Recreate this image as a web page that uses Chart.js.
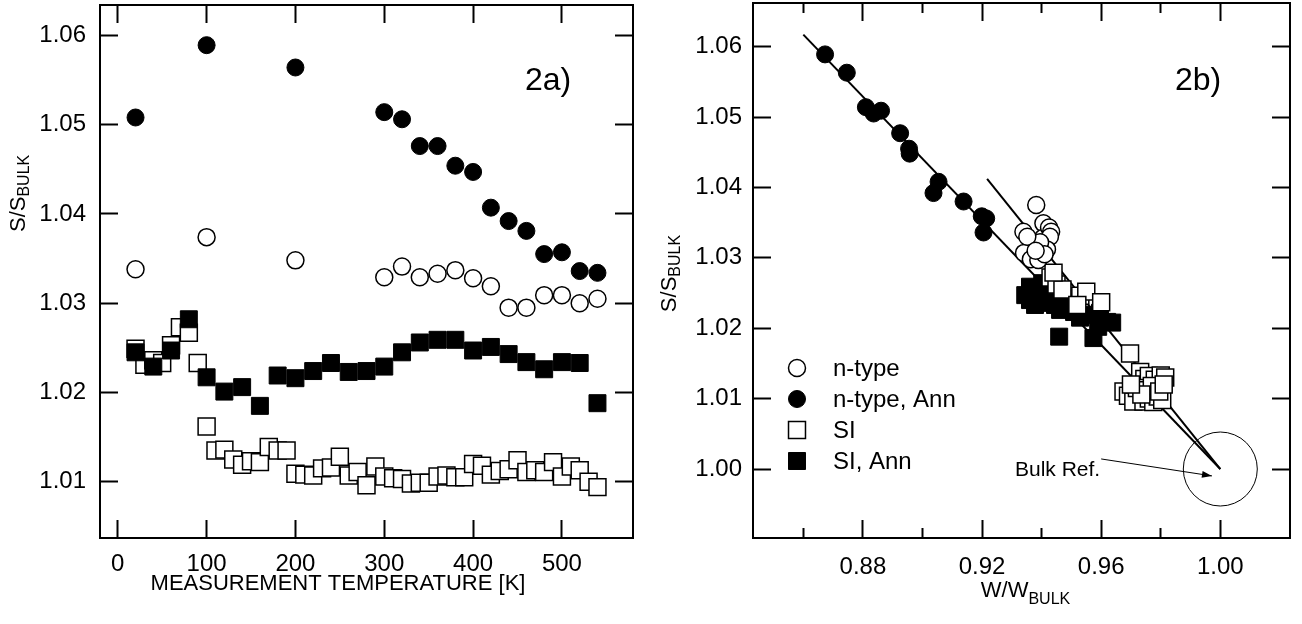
<!DOCTYPE html>
<html><head><meta charset="utf-8">
<script src="https://cdn.jsdelivr.net/npm/chart.js@4.4.0/dist/chart.umd.min.js"></script>
<style>
html,body{margin:0;padding:0;background:#fff;}
#wrap{position:relative;width:1302px;height:624px;overflow:hidden;}
canvas{position:absolute;top:0;}
#c1{left:0px;} #c2{left:651px;}
</style></head><body>
<div id="wrap"><canvas id="c1" width="651" height="624"></canvas><canvas id="c2" width="651" height="624"></canvas></div>
<script>
const FONT = "'Liberation Sans', Arial, Helvetica, sans-serif";

// ---------- Panel 2a: S/S_bulk vs measurement temperature ----------
const tempNType = [20,100,200,300,320,340,360,380,400,420,440,460,480,500,520,540];
const sNType    = [1.0338,1.0374,1.0348,1.0329,1.0341,1.0329,1.0333,1.0337,1.0328,1.0319,1.0295,1.0295,1.0309,1.0309,1.0300,1.0305];
const sNTypeAnn = [1.0508,1.0589,1.0564,1.0514,1.0506,1.0476,1.0476,1.0454,1.0447,1.0407,1.0392,1.0381,1.0355,1.0357,1.0336,1.0334];
const tempSIAnn = [20,40,60,80,100,120,140,160,180,200,220,240,260,280,300,320,340,360,380,400,420,440,460,480,500,520,540];
const sSIAnn    = [1.0245,1.0229,1.0247,1.0282,1.0217,1.0201,1.0206,1.0185,1.0219,1.0216,1.0224,1.0233,1.0223,1.0224,1.0229,1.0245,1.0256,1.0259,1.0259,1.0247,1.0251,1.0243,1.0234,1.0226,1.0234,1.0233,1.0188];
const tempSI = [20,30,40,50,60,70,80,90,100,110,120,130,140,150,160,170,180,190,200,210,220,230,240,250,260,270,280,290,300,310,320,330,340,350,360,370,380,390,400,410,420,430,440,450,460,470,480,490,500,510,520,530,540];
const sSI    = [1.0249,1.0231,1.0236,1.0233,1.0253,1.0273,1.0267,1.0233,1.0162,1.0135,1.0136,1.0125,1.0119,1.0123,1.0122,1.0139,1.0135,1.0135,1.0109,1.0108,1.0107,1.0115,1.0116,1.0128,1.0107,1.0111,1.0096,1.0117,1.0106,1.0104,1.0103,1.0098,1.0099,1.0099,1.0106,1.0107,1.0105,1.0105,1.0120,1.0118,1.0108,1.0112,1.0114,1.0124,1.0111,1.0113,1.0111,1.0122,1.0106,1.0117,1.0113,1.0100,1.0094];
const xTicksA = [0,100,200,300,400,500];
const yTicksA = [1.01,1.02,1.03,1.04,1.05,1.06];
const xRangeA = [-20,580];
const yRangeA = [1.0037,1.0634];

// ---------- Panel 2b: S/S_bulk vs W/W_bulk ----------
const wNTypeAnn = [0.8673,0.8746,0.8810,0.8836,0.8861,0.8925,0.8955,0.8957,0.9037,0.9054,0.9138,0.9199,0.9214,0.9205];
const sNTypeAnnB= [1.0589,1.0563,1.0514,1.0505,1.0509,1.0477,1.0455,1.0448,1.0392,1.0408,1.0380,1.0359,1.0356,1.0336];
const wNType  = [0.9382,0.9339,0.9406,0.9404,0.9367,0.9341,0.9364,0.9389,0.9425,0.9432,0.9428,0.9418,0.9395,0.9352,0.9410,0.9380];
const sNTypeB = [1.0375,1.0337,1.0349,1.0328,1.0318,1.0307,1.0298,1.0297,1.0343,1.0337,1.0330,1.0312,1.0322,1.0330,1.0305,1.0310];
const wSIAnn  = [0.9361,0.9361,0.9395,0.9412,0.9422,0.9445,0.9469,0.9489,0.9509,0.9529,0.9459,0.9574,0.9596,0.9620,0.9637,0.9590,0.9345,0.9378,0.9402,0.9435,0.9462,0.9546,0.9479];
const sSIAnnB = [1.0259,1.0240,1.0254,1.0244,1.0236,1.0233,1.0243,1.0230,1.0223,1.0215,1.0188,1.0186,1.0222,1.0209,1.0208,1.0202,1.0247,1.0233,1.0264,1.0252,1.0226,1.0219,1.0237];
const wSI  = [0.9430,0.9450,0.9470,0.9530,0.9550,0.9600,0.9520,0.9440,0.9697,0.9731,0.9745,0.9760,0.9780,0.9800,0.9815,0.9675,0.9690,0.9708,0.9742,0.9760,0.9775,0.9790,0.9805,0.9720,0.9750,0.9770,0.9795,0.9810,0.9735,0.9700];
const sSIB = [1.0272,1.0262,1.0255,1.0246,1.0252,1.0237,1.0233,1.0279,1.0164,1.0138,1.0128,1.0132,1.0127,1.0133,1.0130,1.0110,1.0104,1.0096,1.0096,1.0100,1.0095,1.0103,1.0098,1.0115,1.0112,1.0118,1.0110,1.0120,1.0106,1.0120];
const fitLineAnnW = [0.860,1.000];
const fitLineAnnS = [1.0617,1.000];
const fitLineW = [0.9217,1.000];
const fitLineS = [1.0412,1.000];
const bulkRefW = [1.000];
const bulkRefS = [1.000];
const xTicksBMajor = [0.88,0.92,0.96,1.00];
const xTicksBMinor = [0.86,0.90,0.94,0.98];
const yTicksB = [1.00,1.01,1.02,1.03,1.04,1.05,1.06];
const xRangeB = [0.8431,1.0234];
const yRangeB = [0.9902,1.0662];

// ---------- texts ----------
const yTitleMain = 'S/S', yTitleSub = 'BULK';
const xTitleA = 'MEASUREMENT TEMPERATURE [K]';
const xTitleBMain = 'W/W', xTitleBSub = 'BULK';
const panelA = '2a)', panelB = '2b)';
const bulkRefLabel = 'Bulk Ref.';
const legendNames = ['n-type','n-type, Ann','SI','SI, Ann'];

const pts = (xs, ys) => xs.map((x, i) => ({x, y: ys[i]}));
const circleOpen = {pointStyle:'circle', pointRadius:8.5, pointHoverRadius:8.5, backgroundColor:'#fff', borderColor:'#000', borderWidth:1.5, showLine:false};
const circleFill = {pointStyle:'circle', pointRadius:8.5, pointHoverRadius:8.5, backgroundColor:'#000', borderColor:'#000', borderWidth:1, showLine:false};
const squareOpen = {pointStyle:'rect', pointRadius:12, pointHoverRadius:12, backgroundColor:'#fff', borderColor:'#000', borderWidth:1.5, showLine:false};
const squareFill = {pointStyle:'rect', pointRadius:12, pointHoverRadius:12, backgroundColor:'#000', borderColor:'#000', borderWidth:1, showLine:false};

function setTicks(arr){ return s => { s.ticks = arr.map(v => ({value:v})); }; }
function axisBase(pos, range, ticksArr, opts){
  const o = Object.assign({show:true, size:0, pad:0, len:-18, fmt:(v)=>String(v), weight:0}, opts||{});
  return {
    type:'linear', position:pos, min:range[0], max:range[1], weight:o.weight,
    afterBuildTicks: setTicks(ticksArr),
    afterFit: s => {
      if (pos==='left'||pos==='right') s.width=o.size; else s.height=o.size;
      s.paddingTop = 0; s.paddingBottom = 0; s.paddingLeft = 0; s.paddingRight = 0;
    },
    ticks:{display:o.show, color:'#000', padding:o.pad, autoSkip:false, maxRotation:0, minRotation:0,
           font:{family:FONT, size:24}, callback:(v)=>o.fmt(v)},
    grid:{display:true, drawOnChartArea:false, drawTicks:true, tickLength:o.len, tickWidth:2, tickColor:'#000'},
    border:{display:true, color:'#000', width:2},
    title:{display:false}
  };
}

function drawSub(ctx, x, y, main, sub, rotate, mainSize, subSize, drop){
  ctx.save();
  ctx.translate(x, y);
  if (rotate) ctx.rotate(-Math.PI/2);
  ctx.fillStyle = '#000';
  ctx.textAlign = 'left'; ctx.textBaseline = 'alphabetic';
  ctx.font = mainSize + 'px ' + FONT;
  const w1 = ctx.measureText(main).width;
  ctx.font = subSize + 'px ' + FONT;
  const w2 = ctx.measureText(sub).width;
  const start = -(w1 + w2) / 2;
  ctx.font = mainSize + 'px ' + FONT;
  ctx.fillText(main, start, 0);
  ctx.font = subSize + 'px ' + FONT;
  ctx.fillText(sub, start + w1, drop);
  ctx.restore();
}

const decorA = {
  id:'decorA',
  afterDraw(chart){
    const ctx = chart.ctx, ys = chart.scales.y;
    drawSub(ctx, 25, ys.getPixelForValue(1.0423), yTitleMain, yTitleSub, true, 22, 16, 4);
    ctx.save();
    ctx.fillStyle = '#000';
    ctx.font = '22px ' + FONT; ctx.textAlign = 'center'; ctx.textBaseline = 'middle';
    ctx.fillText(xTitleA, 338, 584);
    ctx.font = '32px ' + FONT; ctx.textAlign = 'left';
    ctx.fillText(panelA, 525, 81);
    ctx.restore();
  }
};

const decorB = {
  id:'decorB',
  afterDraw(chart){
    const ctx = chart.ctx, ca = chart.chartArea;
    const xs = chart.scales.x, ys = chart.scales.y;
    drawSub(ctx, 25, (ca.top + ca.bottom)/2 + 3, yTitleMain, yTitleSub, true, 22, 16, 4);
    drawSub(ctx, (ca.left + ca.right)/2 + 4, 597, xTitleBMain, xTitleBSub, false, 22, 16, 7);
    ctx.save();
    ctx.fillStyle = '#000'; ctx.strokeStyle = '#000';
    ctx.font = '32px ' + FONT; ctx.textAlign = 'left'; ctx.textBaseline = 'middle';
    ctx.fillText(panelB, 524, 81);
    // Bulk Ref. label and arrow
    const sx = xs.getPixelForValue(0.9600), sy = ys.getPixelForValue(1.00143);
    const tx = xs.getPixelForValue(0.9972), ty = ys.getPixelForValue(0.99902);
    ctx.font = '21px ' + FONT; ctx.textAlign = 'right'; ctx.textBaseline = 'middle';
    ctx.fillText(bulkRefLabel, sx - 1, ys.getPixelForValue(0.99987));
    ctx.lineWidth = 1;
    ctx.beginPath(); ctx.moveTo(sx, sy); ctx.lineTo(tx, ty); ctx.stroke();
    const ang = Math.atan2(ty - sy, tx - sx), L = 10, W = 3.5;
    ctx.beginPath();
    ctx.moveTo(tx, ty);
    ctx.lineTo(tx - L*Math.cos(ang) + W*Math.sin(ang), ty - L*Math.sin(ang) - W*Math.cos(ang));
    ctx.lineTo(tx - L*Math.cos(ang) - W*Math.sin(ang), ty - L*Math.sin(ang) + W*Math.cos(ang));
    ctx.closePath(); ctx.fill();
    // legend
    const items = legendNames.map(n => chart.data.datasets.find(d => d.label === n));
    const mx = ca.left + 44, tx0 = ca.left + 80, y0 = 368, dy = 31;
    items.forEach((d, i) => {
      const y = y0 + i*dy;
      ctx.fillStyle = d.backgroundColor; ctx.strokeStyle = d.borderColor; ctx.lineWidth = d.borderWidth;
      ctx.beginPath();
      if (d.pointStyle === 'circle') ctx.arc(mx, y, d.pointRadius, 0, Math.PI*2);
      else { const h = d.pointRadius*Math.SQRT1_2; ctx.rect(mx - h, y - h, 2*h, 2*h); }
      ctx.fill(); ctx.stroke();
      ctx.fillStyle = '#000'; ctx.font = '24px ' + FONT; ctx.textAlign = 'left'; ctx.textBaseline = 'middle';
      ctx.fillText(d.label, tx0, y + 1);
    });
    ctx.restore();
  }
};

const common = {
  responsive:false, animation:false, devicePixelRatio:1,
  events:[],
  plugins:{legend:{display:false}, tooltip:{enabled:false}, title:{display:false}},
};

new Chart(document.getElementById('c1'), {
  type:'scatter',
  data:{datasets:[
    Object.assign({label:'SI', data:pts(tempSI, sSI), order:4}, squareOpen),
    Object.assign({label:'SI, Ann', data:pts(tempSIAnn, sSIAnn), order:3}, squareFill),
    Object.assign({label:'n-type', data:pts(tempNType, sNType), order:2}, circleOpen),
    Object.assign({label:'n-type, Ann', data:pts(tempNType, sNTypeAnn), order:1}, circleFill),
  ]},
  options:Object.assign({}, common, {
    layout:{padding:{left:0, top:5, right:18, bottom:0}, autoPadding:false},
    scales:{
      x: axisBase('bottom', xRangeA, xTicksA, {size:86, pad:30}),
      xTop: axisBase('top', xRangeA, xTicksA, {show:false}),
      y: axisBase('left', yRangeA, yTicksA, {size:100, pad:32, fmt:(v)=>Number(v).toFixed(2)}),
      yRight: axisBase('right', yRangeA, yTicksA, {show:false}),
    }
  }),
  plugins:[decorA]
});

new Chart(document.getElementById('c2'), {
  type:'scatter',
  data:{datasets:[
    {label:'fit-ann', data:pts(fitLineAnnW, fitLineAnnS), showLine:true, pointRadius:0, borderColor:'#000', borderWidth:2, fill:false, order:10},
    {label:'fit', data:pts(fitLineW, fitLineS), showLine:true, pointRadius:0, borderColor:'#000', borderWidth:2, fill:false, order:9},
    Object.assign({label:'SI, Ann', data:pts(wSIAnn, sSIAnnB), order:5}, squareFill),
    Object.assign({label:'SI', data:pts(wSI, sSIB), order:4}, squareOpen),
    Object.assign({label:'n-type', data:pts(wNType, sNTypeB), order:3}, circleOpen),
    Object.assign({label:'n-type, Ann', data:pts(wNTypeAnn, sNTypeAnnB), order:2}, circleFill),
    {label:'bulk-ref', data:pts(bulkRefW, bulkRefS), pointStyle:'circle', pointRadius:37, pointHoverRadius:37, backgroundColor:'rgba(0,0,0,0)', borderColor:'#000', borderWidth:1, showLine:false, order:1, clip:false},
  ]},
  options:Object.assign({}, common, {
    layout:{padding:{left:0, top:3, right:12, bottom:0}, autoPadding:false},
    scales:{
      xMinor: axisBase('bottom', xRangeB, xTicksBMinor, {show:false, len:-10, weight:0}),
      x: axisBase('bottom', xRangeB, xTicksBMajor, {size:86, pad:33, weight:1, fmt:(v)=>Number(v).toFixed(2)}),
      xTopMinor: axisBase('top', xRangeB, xTicksBMinor, {show:false, len:-10, weight:0}),
      xTop: axisBase('top', xRangeB, xTicksBMajor, {show:false, weight:1}),
      y: axisBase('left', yRangeB, yTicksB, {size:102, pad:29, fmt:(v)=>Number(v).toFixed(2)}),
      yRight: axisBase('right', yRangeB, yTicksB, {show:false}),
    }
  }),
  plugins:[decorB]
});
</script>
</body></html>
